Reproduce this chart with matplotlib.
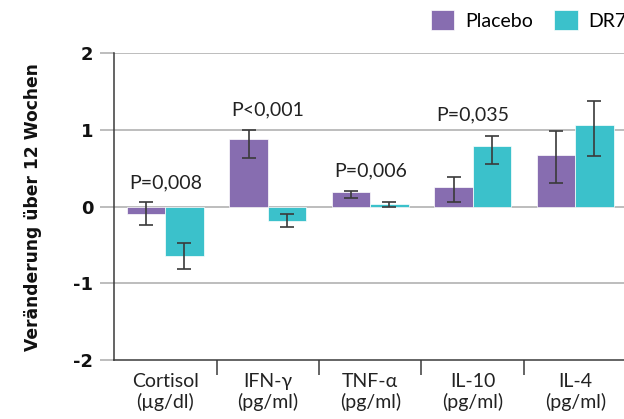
import matplotlib
matplotlib.use("Agg")
import matplotlib.pyplot as plt
import numpy as np

plt.rcParams["font.family"] = ["Lato", "DejaVu Sans"]

# data
categories = ["Cortisol\n(µg/dl)", "IFN-γ\n(pg/ml)", "TNF-α\n(pg/ml)", "IL-10\n(pg/ml)", "IL-4\n(pg/ml)"]
placebo = [-0.10, 0.88, 0.19, 0.25, 0.67]
placebo_lo = [-0.24, 0.63, 0.11, 0.065, 0.31]
placebo_hi = [0.065, 1.00, 0.205, 0.39, 0.99]
dr7 = [-0.65, -0.195, 0.035, 0.79, 1.065]
dr7_lo = [-0.81, -0.27, 0.0, 0.55, 0.66]
dr7_hi = [-0.47, -0.095, 0.065, 0.92, 1.38]
p_labels = ["P=0,008", "P<0,001", "P=0,006", "P=0,035"]
p_heights = [0.31, 1.26, 0.47, 1.19]
yticks = [-2, -1, 0, 1, 2]

purple = "#876db0"
cyan = "#3bc1cb"
grid_c = "#ababab"
dark = "#3a3a3a"

fig = plt.figure(figsize=(6.24, 4.19), dpi=100)
ax = fig.add_axes([0.1827, 0.1408, 0.8213, 0.7327])

x = np.arange(len(categories))
w = 0.375
p_err = [np.array(placebo) - np.array(placebo_lo), np.array(placebo_hi) - np.array(placebo)]
d_err = [np.array(dr7) - np.array(dr7_lo), np.array(dr7_hi) - np.array(dr7)]

ax.bar(x - w / 2, placebo, w, color=purple, edgecolor="white", linewidth=0.5, zorder=3, label="Placebo")
ax.bar(x + w / 2, dr7, w, color=cyan, edgecolor="white", linewidth=0.5, zorder=3, label="DR7")
ax.errorbar(x - w / 2, placebo, yerr=p_err, fmt="none", ecolor=dark, elinewidth=1.2, capsize=5, capthick=1.2, zorder=4)
ax.errorbar(x + w / 2, dr7, yerr=d_err, fmt="none", ecolor=dark, elinewidth=1.2, capsize=5, capthick=1.2, zorder=4)

for i, (lab, h) in enumerate(zip(p_labels, p_heights)):
    ax.text(x[i], h, lab, ha="center", va="center", fontsize=14, color="#222222")

ax.set_xlim(-0.5, len(categories) - 0.5)
ax.set_ylim(-2, 2)
ax.set_yticks(yticks)
ax.set_yticklabels([str(t) for t in yticks], fontweight="bold", fontsize=13, family="DejaVu Sans")
ax.tick_params(axis="y", length=10, width=1.1, color=grid_c, pad=5, labelcolor="#111111")
for t in yticks[1:]:
    ax.axhline(t, color=grid_c, linewidth=1.1, zorder=1)
ax.yaxis.get_major_ticks()[0].tick1line.set_color(dark)

ax.set_xticks(x)
ax.set_xticklabels(categories, fontsize=14, linespacing=1.25, color="#222222")
ax.set_xticks(x[:-1] + 0.5, minor=True)
ax.tick_params(axis="x", which="major", length=0, pad=9)
ax.tick_params(axis="x", which="minor", length=11, width=1.1, color=dark)

for s in ["top", "right"]:
    ax.spines[s].set_visible(False)
ax.spines["left"].set_color(dark)
ax.spines["bottom"].set_color(dark)
ax.spines["left"].set_linewidth(1.1)
ax.spines["bottom"].set_linewidth(1.1)

fig.text(33 / 624, 0.507, "Veränderung über 12 Wochen", rotation=90, ha="center", va="center",
         fontsize=12.3, fontweight="bold", family="DejaVu Sans", color="#111111")

fig.legend(loc="upper left", bbox_to_anchor=(431 / 624, 0.975), ncol=2, frameon=False,
           fontsize=14, handlelength=1.2, handleheight=1.15, handletextpad=0.55,
           columnspacing=1.1, borderpad=0, borderaxespad=0)

fig.savefig("out.png", dpi=100)
